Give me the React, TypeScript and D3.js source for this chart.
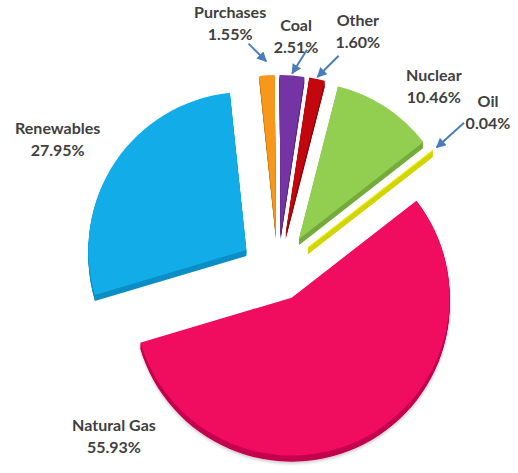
import React from "react";
import * as d3 from "d3";

// ---- data ----
const categories = ["Purchases", "Coal", "Other", "Nuclear", "Oil", "Natural Gas", "Renewables"];
const shares = [1.55, 2.51, 1.6, 10.46, 0.04, 55.93, 27.95];

// ---- styles / layout ----
const topColors = ["#F7981D", "#7434A3", "#C3070F", "#92CF50", "#E9EC00", "#F0075F", "#12ADE9"];
const sideColors = ["#C97A10", "#562480", "#900508", "#74AB3A", "#D2D400", "#C2054E", "#0B8EC6"];
const explode = [38, 38, 38, 38, 38, 30, 38];
const labelAngles = [-10.9, 4.4, 18.4, 40.1, 52.7, -135, -59];
const labelRadii = [253, 236, 253, 242, 264, 232, 257];
const arrowDir = [-45, 32, 45, null, 48, null, null];
const arrowLen = [25, 28, 30, 0, 37, 0, 0];
const arrowGap = [14, 2, 2, 0, 5, 0, 0];

const W = 518;
const H = 473;
const CX = 278;
const CY = 271;
const R = 158;
const DEPTH = 6;
const ROT = (-6 * Math.PI) / 180;

const rad = (deg: number) => (deg * Math.PI) / 180;
const polar = (a: number, r: number): [number, number] => [Math.sin(a) * r, -Math.cos(a) * r];

export default function App() {
  const pie = d3
    .pie<number>()
    .sort(null)
    .value((d) => d)
    .startAngle(ROT)
    .endAngle(ROT + 2 * Math.PI);
  const arcs = pie(shares);
  const arcGen = d3.arc<d3.PieArcDatum<number>>().innerRadius(0).outerRadius(R);

  const slices = arcs.map((a, i) => {
    const mid = (a.startAngle + a.endAngle) / 2;
    const [ox, oy] = polar(mid, explode[i]);
    return { a, i, mid, ox: CX + ox, oy: CY + oy, d: arcGen(a) || "" };
  });

  return (
    <svg
      width={W}
      height={H}
      style={{ position: "absolute", left: 0, top: 0, background: "#fff" }}
      fontFamily="Lato, 'Open Sans', sans-serif"
    >
      <defs>
        <marker
          id="ah"
          viewBox="0 0 10 10"
          refX="9"
          refY="5"
          markerWidth="11"
          markerHeight="10"
          markerUnits="userSpaceOnUse"
          orient="auto"
        >
          <path d="M0,0 L10,5 L0,10 z" fill="#4A7EBB" />
        </marker>
        <filter id="shadow" x="-20%" y="-20%" width="140%" height="140%">
          <feGaussianBlur in="SourceAlpha" stdDeviation="1.5" />
          <feOffset dx="0" dy="1.5" result="ob" />
          <feComponentTransfer>
            <feFuncA type="linear" slope="0.2" />
          </feComponentTransfer>
          <feMerge>
            <feMergeNode />
            <feMergeNode in="SourceGraphic" />
          </feMerge>
        </filter>
      </defs>

      {slices.map((s) => (
        <g key={categories[s.i]} filter={s.i === 5 ? "url(#shadow)" : undefined}>
          {d3.range(1, DEPTH + 1).map((k) => (
            <path
              key={k}
              d={s.d}
              transform={`translate(${s.ox},${s.oy + k})`}
              fill={sideColors[s.i]}
              stroke={s.i === 4 ? sideColors[s.i] : "none"}
              strokeWidth={s.i === 4 ? 1 : 0}
            />
          ))}
          <path
            d={s.d}
            transform={`translate(${s.ox},${s.oy})`}
            fill={topColors[s.i]}
            stroke={s.i === 4 ? topColors[s.i] : "none"}
            strokeWidth={s.i === 4 ? 1 : 0}
          />
        </g>
      ))}

      {slices.map((s) => {
        const dir = arrowDir[s.i];
        if (dir === null) return null;
        const [tx, ty] = polar(s.mid, R + arrowGap[s.i]);
        const tipX = s.ox + tx;
        const tipY = s.oy + ty;
        const [dx, dy] = polar(rad(dir), arrowLen[s.i]);
        return (
          <line
            key={"ar" + s.i}
            x1={tipX + dx}
            y1={tipY + dy}
            x2={tipX}
            y2={tipY}
            stroke="#4A7EBB"
            strokeWidth={2}
            markerEnd="url(#ah)"
          />
        );
      })}

      {slices.map((s) => {
        const [lx, ly] = polar(rad(labelAngles[s.i]), labelRadii[s.i]);
        const x = CX + lx;
        const y = CY + ly;
        return (
          <text
            key={"lb" + s.i}
            x={x}
            y={y}
            textAnchor="middle"
            fontSize={16}
            fontWeight={700}
            fill="#404040"
          >
            <tspan x={x} dy={-11} dominantBaseline="central">
              {categories[s.i]}
            </tspan>
            <tspan x={x} dy={22} dominantBaseline="central">
              {shares[s.i].toFixed(2) + "%"}
            </tspan>
          </text>
        );
      })}
    </svg>
  );
}
